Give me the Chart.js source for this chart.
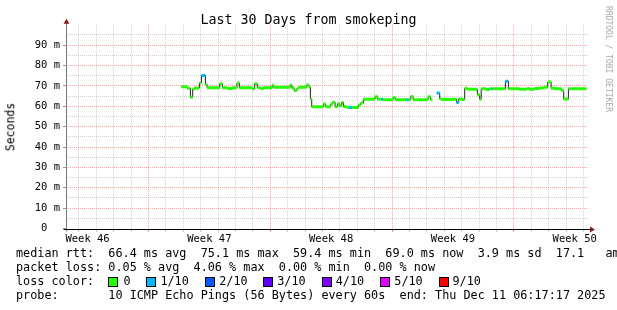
<!DOCTYPE html>
<html>
<head>
<meta charset="utf-8">
<script src="https://cdn.jsdelivr.net/npm/chart.js@4.4.1/dist/chart.umd.min.js"></script>
<style>
  html, body { margin: 0; padding: 0; background: #fff; }
  body { width: 617px; height: 310px; position: relative; overflow: hidden;
         font-family: "DejaVu Sans Mono", monospace; color: #000; }
  canvas { position: absolute; left: 0; top: 0; }
  .t { position: absolute; white-space: pre; font-size: 11.8px; line-height: 14px; }
  .box { position: absolute; width: 8px; height: 8px; border: 1px solid #000; }
  #title { position: absolute; left: 0; width: 617px; top: 12.4px; text-align: center;
           font-size: 13.3px; line-height: 16px; white-space: pre; }
  #ylab { position: absolute; left: 10.5px; top: 126.5px; font-size: 11.5px; line-height: 1;
          transform: translate(-50%, -50%) rotate(-90deg); white-space: pre; }
  #mark { position: absolute; left: 608px; top: 59px; font-size: 8px; line-height: 1; color: #aaa;
          transform: translate(-50%, -50%) rotate(90deg); white-space: pre; }
</style>
</head>
<body>
<canvas id="graph" width="617" height="310"></canvas>
<div id="title">Last 30 Days from smokeping</div>
<div id="ylab">Seconds</div>
<div id="mark">RRDTOOL / TOBI OETIKER</div>
<div class="t" style="left:16px;top:246.4px">median rtt:  66.4 ms avg  75.1 ms max  59.4 ms min  69.0 ms now  3.9 ms sd  17.1   am/as</div>
<div class="t" style="left:16px;top:260.4px">packet loss: 0.05 % avg  4.06 % max  0.00 % min  0.00 % now</div>
<div class="t" style="left:16px;top:274.4px">loss color:</div>
<div id="losslegend"></div>
<div class="t" style="left:16px;top:288.4px">probe:       10 ICMP Echo Pings (56 Bytes) every 60s  end: Thu Dec 11 06:17:17 2025</div>
<script>
// x = days since Tue Nov 11 2025 00:00, graph covers the 30 days ending Dec 11 06:17:17
const xStart = 0.262;
const xEnd = 30.262;

// median rtt steps (start of each step, ms, lost pings of 10)
const stepStart = [6.894, 7.239, 7.411, 7.544, 7.641, 7.929, 8.044, 8.274, 8.371, 9.095,
  9.251, 9.538, 9.825, 10.090, 10.228, 10.957, 11.107, 11.262, 11.434, 11.624,
  12.107, 12.199, 13.141, 13.233, 13.371, 13.521, 13.618, 14.095, 14.233, 14.308,
  14.383, 15.055, 15.187, 15.475, 15.572, 15.728, 15.877, 15.975, 16.107, 16.205,
  16.394, 16.532, 16.722, 17.067, 17.199, 17.354, 18.026, 18.176, 18.371, 18.486,
  19.061, 19.193, 19.825, 19.957, 20.072, 20.210, 21.072, 21.222, 21.320, 21.567,
  21.739, 21.837, 22.411, 22.699, 22.831, 22.986, 23.176, 23.331, 23.906, 24.038,
  24.124, 24.406, 24.595, 24.693, 24.785, 25.515, 25.687, 26.320, 26.762, 26.894,
  27.182, 27.469, 27.716, 27.946, 28.141, 28.389, 28.751, 28.866, 29.136];
const stepEnd = 30.170;
const medianMs = [69.6, 68.8, 64.4, 68.5, 69.0, 71.4, 75.1, 70.7, 69.1, 71.0,
  69.1, 68.7, 69.1, 71.4, 69.1, 68.6, 71.0, 69.1, 68.7, 69.1,
  70.3, 69.3, 70.5, 69.1, 67.7, 68.6, 69.3, 70.4, 69.3, 63.5,
  59.8, 61.1, 59.8, 61.0, 62.0, 59.8, 61.3, 60.2, 61.9, 59.9,
  59.4, 59.4, 59.4, 60.6, 61.6, 63.4, 64.7, 63.4, 63.4, 63.2,
  64.3, 63.2, 63.2, 63.2, 64.8, 63.2, 64.7, 63.2, null, 66.5,
  63.7, 63.3, 63.5, 61.9, 63.6, 63.3, 68.8, 68.3, 65.7, 63.5,
  68.6, 68.2, 68.6, 68.6, 68.6, 72.3, 68.6, 68.3, 68.7, 68.3,
  68.7, 69.0, 69.3, 71.9, 68.9, 68.6, 67.7, 63.6, 68.6];
const lossCount = [0, 0, 0, 0, 0, 0, 1, 0, 0, 0,
  0, 0, 0, 0, 0, 0, 0, 0, 0, 0,
  0, 0, 0, 0, 0, 0, 0, 0, 0, 0,
  0, 0, 0, 0, 0, 0, 0, 0, 0, 0,
  0, 1, 0, 0, 0, 0, 0, 0, 1, 0,
  0, 0, 1, 0, 0, 0, 0, 0, 0, 1,
  0, 0, 0, 1, 0, 0, 0, 0, 0, 0,
  0, 0, 0, 1, 0, 1, 0, 0, 0, 0,
  0, 0, 0, 0, 0, 0, 0, 0, 0];

const lossLabels = ['0', '1/10', '2/10', '3/10', '4/10', '5/10', '9/10'];
const lossColors = ['#26ff00', '#00b8ff', '#0059ff', '#5e00ff', '#7e00ff', '#dd00ff', '#ff0000'];
const lossMin = [0, 1, 2, 3, 4, 5, 9];

const weekLabels = ['Week 46', 'Week 47', 'Week 48', 'Week 49', 'Week 50'];
const weekCenters = [1.5, 8.5, 15.5, 22.5, 29.5];
const weekStarts = [5, 12, 19, 26];
const dayLines = Array.from({length: 30}, (_, i) => i + 1);
const yTicks = Array.from({length: 21}, (_, i) => i * 5);

const gridGrey = 'rgba(128,128,128,0.36)';
const gridRed = 'rgba(255,0,0,0.36)';

function lossLevel(n) {
  let lvl = 0;
  lossMin.forEach((m, i) => { if (n >= m) lvl = i; });
  return lvl;
}

const stepStop = stepStart.slice(1).concat([stepEnd]);

function bandPoints(level) {
  const pts = [];
  stepStart.forEach((t, i) => {
    if (medianMs[i] === null || lossLevel(lossCount[i]) !== level) return;
    pts.push({x: t, y: medianMs[i]}, {x: stepStop[i], y: medianMs[i]}, {x: stepStop[i], y: null});
  });
  return pts;
}

const medianLine = stepStart.map((t, i) => ({x: t, y: medianMs[i]}));
medianLine.push({x: stepEnd, y: medianMs[medianMs.length - 1]});

// loss colour legend boxes
const boxX = [107.6, 146.4, 205.2, 263.2, 321.7, 380.3, 438.5];
const legend = document.getElementById('losslegend');
lossLabels.forEach((lab, i) => {
  const b = document.createElement('div');
  b.className = 'box';
  b.style.left = boxX[i] + 'px';
  b.style.top = '277px';
  b.style.background = lossColors[i];
  legend.appendChild(b);
  const s = document.createElement('div');
  s.className = 't';
  s.style.left = (boxX[i] + (i === 0 ? 16 : 14)) + 'px';
  s.style.top = '274.4px';
  s.textContent = lab;
  legend.appendChild(s);
});

const axesPlugin = {
  id: 'rrdAxes',
  afterDraw(chart) {
    const {ctx, chartArea: a} = chart;
    const x0 = Math.round(a.left) + 0.5;
    const y0 = Math.round(a.bottom) + 0.5;
    ctx.save();
    ctx.lineWidth = 1;
    ctx.strokeStyle = '#777';
    ctx.beginPath();
    ctx.moveTo(x0, y0 + 2);
    ctx.lineTo(x0, a.top - 2);
    ctx.stroke();
    ctx.strokeStyle = '#000';
    ctx.beginPath();
    ctx.moveTo(x0 - 3, y0);
    ctx.lineTo(a.right + 3, y0);
    ctx.stroke();
    ctx.fillStyle = '#8b1a1a';
    ctx.beginPath();
    ctx.moveTo(x0 - 3, a.top - 1);
    ctx.lineTo(x0 + 3, a.top - 1);
    ctx.lineTo(x0, a.top - 6);
    ctx.closePath();
    ctx.fill();
    ctx.beginPath();
    ctx.moveTo(a.right + 2, y0 - 3);
    ctx.lineTo(a.right + 2, y0 + 3);
    ctx.lineTo(a.right + 7, y0);
    ctx.closePath();
    ctx.fill();
    ctx.restore();
  }
};

Chart.defaults.font.family = "'DejaVu Sans Mono', monospace";
Chart.defaults.color = '#000';

const bandSets = lossLabels.map((lab, lvl) => ({
  label: 'loss ' + lab,
  data: bandPoints(lvl),
  borderColor: lossColors[lvl],
  borderWidth: 3,
  borderCapStyle: 'butt',
  pointRadius: 0,
  spanGaps: false,
  order: 0
}));

new Chart(document.getElementById('graph'), {
  type: 'line',
  data: {
    datasets: bandSets.concat([{
      label: 'median rtt',
      data: medianLine,
      borderColor: '#202020',
      borderWidth: 1,
      stepped: true,
      pointRadius: 0,
      spanGaps: false,
      order: 1
    }])
  },
  options: {
    responsive: false,
    devicePixelRatio: 1,
    animation: false,
    events: [],
    layout: { padding: { left: 0, right: 29, top: 24.8, bottom: 61.5 } },
    plugins: { legend: { display: false }, tooltip: { enabled: false }, title: { display: false } },
    scales: {
      x: {
        type: 'linear',
        min: xStart,
        max: xEnd,
        afterBuildTicks: s => {
          s.ticks = dayLines.concat(weekCenters).sort((p, q) => p - q).map(v => ({value: v}));
        },
        afterFit: s => { s.height = 20; },
        ticks: {
          autoSkip: false,
          maxRotation: 0,
          padding: 1,
          font: { size: 10.5 },
          callback: v => {
            const i = weekCenters.indexOf(v);
            return i >= 0 ? weekLabels[i] : '';
          }
        },
        grid: {
          tickLength: 3,
          color: c => {
            const v = c.tick ? c.tick.value : null;
            if (weekCenters.includes(v)) return 'rgba(0,0,0,0)';
            return weekStarts.includes(v) ? gridRed : gridGrey;
          },
          tickColor: c => {
            const v = c.tick ? c.tick.value : null;
            if (weekCenters.includes(v)) return 'rgba(0,0,0,0)';
            return weekStarts.includes(v) ? '#e06060' : '#aaa';
          }
        },
        border: { display: false, dash: [1, 1] }
      },
      y: {
        type: 'linear',
        min: 0,
        max: 100,
        afterBuildTicks: s => { s.ticks = yTicks.map(v => ({value: v})); },
        afterFit: s => { s.width = 66; },
        ticks: {
          autoSkip: false,
          padding: 3,
          font: { size: 10.5 },
          callback: v => (v % 10 === 0 && v < 100) ? (v === 0 ? '0  ' : v + ' m') : ''
        },
        grid: {
          tickLength: 3,
          color: c => {
            const v = c.tick ? c.tick.value : null;
            if (v === 0 || v === 100) return 'rgba(0,0,0,0)';
            return v % 10 === 0 ? gridRed : gridGrey;
          },
          tickColor: c => {
            const v = c.tick ? c.tick.value : null;
            if (v === 100) return 'rgba(0,0,0,0)';
            return v % 10 === 0 ? '#999' : 'rgba(0,0,0,0)';
          }
        },
        border: { display: false, dash: [1, 1] }
      }
    }
  },
  plugins: [axesPlugin]
});
</script>
</body>
</html>
